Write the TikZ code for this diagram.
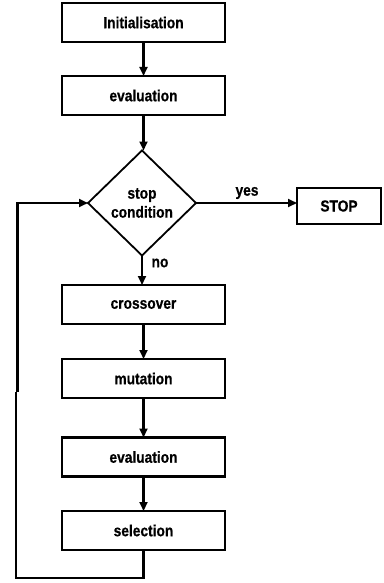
\documentclass[tikz,border=0pt]{standalone}
\usepackage{fontspec}
\setmainfont{Liberation Sans}[FakeStretch=0.86,BoldFeatures={FakeBold=0.6}]
\usetikzlibrary{shapes.geometric,arrows.meta}
\begin{document}
\begin{tikzpicture}[x=1pt,y=-1pt,
  font=\fontsize{16}{20}\selectfont\bfseries,
  stepbox/.style={draw,line width=2.2pt,minimum width=163pt,minimum height=39pt,inner sep=0pt,outer sep=0pt},
  decision/.style={draw,diamond,line width=1.8pt,minimum width=108pt,minimum height=105pt,inner sep=0pt,outer sep=0pt,align=center},
  conn/.style={line width=2.2pt,-{Triangle[width=8pt,length=9pt]}},
  plain/.style={line width=2.2pt},
  lbl/.style={inner sep=0pt}]
\useasboundingbox (0,0) rectangle (383,583);
\node[stepbox] (init) at (143.5,22.5) {Initialisation};
\node[stepbox] (eval1) at (143.5,95.5) {evaluation};
\node[decision] (cond) at (142,203) {stop\\[-1pt]condition};
\node[stepbox,minimum width=84pt,minimum height=36pt] (stop) at (339,206) {STOP};
\node[stepbox] (cross) at (143.5,304.5) {crossover};
\node[stepbox] (mut) at (143.5,378.5) {mutation};
\node[stepbox] (eval2) at (143.5,457) {evaluation};
\node[stepbox] (sel) at (143.5,530.5) {selection};
\node[lbl] (yes) at (247,193) {yes};
\node[lbl] (no) at (160,263) {no};
\coordinate (c1) at (143.5,578);
\coordinate (c2) at (16,578);
\coordinate (c3) at (16,392);
\coordinate (c4) at (17.5,392);
\coordinate (c5) at (17.5,203);
\draw[conn] (init) -- (eval1);
\draw[conn] (eval1) -- (cond.north -| eval1);
\draw[conn] (cond.east) -- (stop.west |- cond.east);
\draw[conn] (cond.south) -- (cross.north -| cond.south);
\draw[conn] (cross) -- (mut);
\draw[conn] (mut) -- (eval2);
\draw[conn] (eval2) -- (sel);
\draw[plain] (sel.south) -- (c1) -- (c2) -- (c3);
\draw[conn] (c4) -- (c5) -- (cond.west);
\end{tikzpicture}
\end{document}
